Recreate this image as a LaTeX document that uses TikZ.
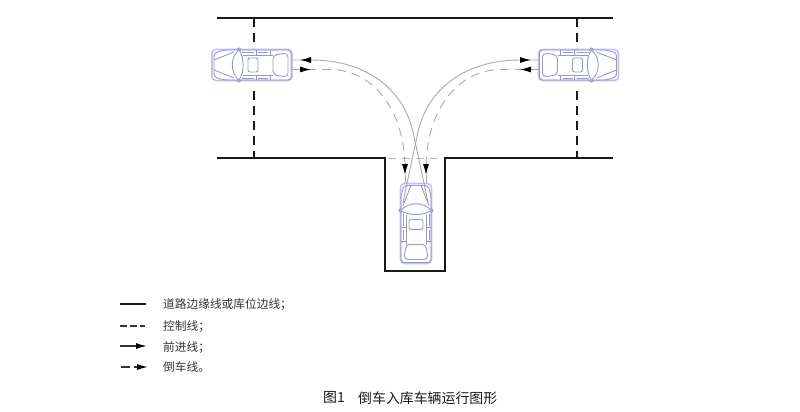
\documentclass[tikz,border=0pt]{standalone}
\usepackage{fontspec}
\usepackage{tikz}
\usetikzlibrary{arrows.meta}
\setmainfont{Noto Sans CJK SC}
\definecolor{carblue}{RGB}{150,150,215}
\definecolor{carpale}{RGB}{195,195,235}
\definecolor{pathgray}{RGB}{170,170,170}
\tikzset{
    every node/.style={inner sep=0mm, anchor=west},
    edgeline/.style={line width=1.8pt, black!90},
    markline/.style={line width=1.8pt, black!90, dash pattern=on 9pt off 6pt},
    ctrlline/.style={line width=1pt, pathgray!80, dash pattern=on 8pt off 6pt},
    goline/.style={line width=.9pt, pathgray},
    backline/.style={line width=.9pt, pathgray, dash pattern=on 9pt off 6pt},
    tip/.style={-{Latex[length=11pt,width=6pt,black]}},
    legendtext/.style={font=\fontsize{11.7pt}{11.7pt}\selectfont, text=black!80},
    captext/.style={font=\fontsize{13.9pt}{13.9pt}\selectfont, text=black!90},
    carbody/.style={line width=.9pt, carblue, rounded corners=2pt},
    carshell/.style={line width=1.6pt, carpale, rounded corners=4pt},
    car/.pic={
        \draw[carshell] (-40,-15.5) rectangle (40,15.5);
        \draw[carbody, rounded corners=3pt] (-39,-15) -- (28,-15) -- (38,-12) -- (38,12) -- (28,15) -- (-39,15) -- cycle;
        % rear window and sunroof
        \draw[carbody, rounded corners=4pt] (-36,-12) -- (-21,-10) -- (-21,10) -- (-36,12) -- cycle;
        \draw[carbody] (-6,-7) rectangle (4,7);
        % cabin rails
        \draw[carbody] (-21,-10) -- (9,-10) (-21,10) -- (9,10);
        \draw[carbody] (-18,-15) -- (-18,-10) (-18,15) -- (-18,10);
        \draw[carbody] (-4,-15) -- (-4,-10) (-4,15) -- (-4,10);
        \draw[carbody] (-16,-13) -- (-6,-13) (-16,13) -- (-6,13);
        \draw[carbody] (-2,-13) -- (10,-13) (-2,13) -- (10,13);
        % windscreen
        \draw[carbody] (13,-15) .. controls (22,-8) and (22,8) .. (13,15);
        \draw[carbody] (13,-15) .. controls (7.5,-8) and (7.5,8) .. (13,15);
        % bonnet
        \draw[carbody] (18,-13) -- (38,-5) (18,13) -- (38,5);
        % mirrors
        \draw[carbody] (15,-15) -- (13,-18) -- (11,-15) (15,15) -- (13,18) -- (11,15);
    }
}

\begin{document}
\begin{tikzpicture}[x=1pt, y=-1pt]
        \useasboundingbox (0,0) rectangle (800,412);
        % road and parking bay
        \draw[edgeline] (217,18) -- (613,18);
        \draw[edgeline] (217,158) -- (385,158) -- (385,271) -- (445,271) -- (445,158) -- (613,158);
        \draw[markline] (254,18) -- (254,48);
        \draw[markline] (254,91) -- (254,158);
        \draw[markline] (577,18) -- (577,48);
        \draw[markline] (577,91) -- (577,158);
        \draw[ctrlline] (388,158) -- (443,158);
        % cars
        \pic (carleft) [rotate=180] at (252,65) {car};
        \pic (carright) at (578.5,65) {car};
        \pic (carbay) [rotate=90] at (416,223.5) {car};
        % forward paths
        \draw[goline] (292,60) -- (311,60) .. controls (365,60) and (403,88) .. (413,132) -- (424,183) -- (428,203);
        \draw[goline] (539,60) -- (520,60) .. controls (466,60) and (428,88) .. (418,132) -- (407,183) -- (403,203);
        \draw[tip, goline] (311,60) -- (300,60);
        \draw[tip, goline] (520,60) -- (531,60);
        % reversing paths
        \draw[backline] (292,69.5) -- (330,69.5) .. controls (368,69.5) and (402,102) .. (405,163);
        \draw[backline] (539,69.5) -- (501,69.5) .. controls (463,69.5) and (429,102) .. (426,163);
        \draw[goline] (405,175) -- (405,183);
        \draw[goline] (426,175) -- (426,183);
        \draw[tip, goline] (300,69.5) -- (311,69.5);
        \draw[tip, goline] (531,69.5) -- (520,69.5);
        \draw[tip, goline] (405,163) -- (405,175);
        \draw[tip, goline] (426,163) -- (426,175);
        % legend
        \draw[edgeline] (120,304) -- (146,304);
        \draw[line width=1.3pt, black!80, dash pattern=on 7pt off 3pt] (120,326) -- (145,326);
        \draw[tip, line width=1.3pt, black!80] (120,346) -- (147,346);
        \draw[tip, line width=1.3pt, black!80, dash pattern=on 9pt off 4pt] (121,367) -- (148,367);
        \node (legend1) [legendtext] at (163,304.5) {道路边缘线或库位边线；};
        \node (legend2) [legendtext] at (163,327) {控制线；};
        \node (legend3) [legendtext] at (163,347) {前进线；};
        \node (legend4) [legendtext] at (163,367.5) {倒车线。};
        % caption
        \node (capnum) [captext] at (323,398) {图1};
        \node (captext) [captext] at (358,398) {倒车入库车辆运行图形};
\end{tikzpicture}
\end{document}
